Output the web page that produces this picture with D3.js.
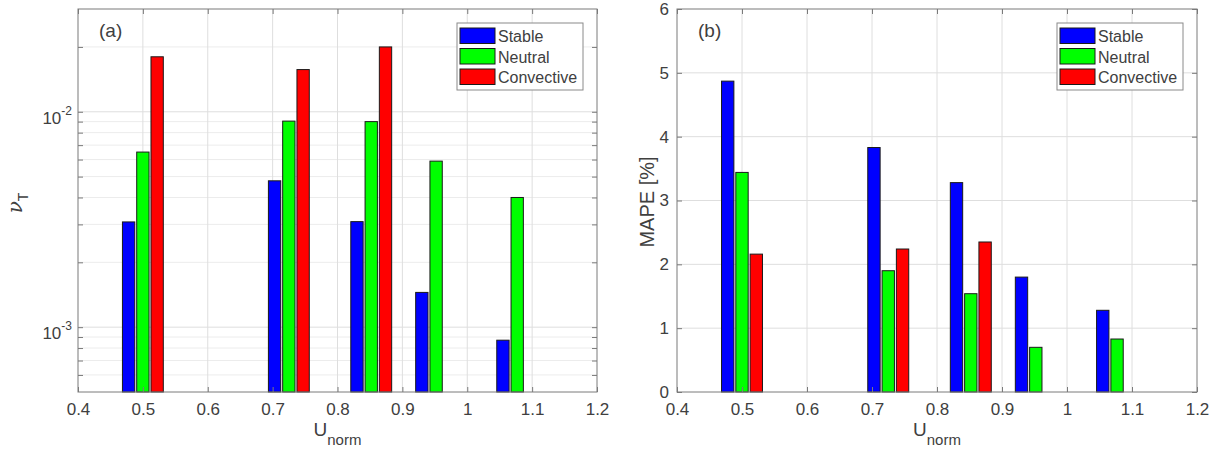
<!DOCTYPE html>
<html>
<head>
<meta charset="utf-8">
<script src="https://cdn.jsdelivr.net/npm/d3@7"></script>
<style>
body { margin: 0; background: #fff; }
svg text { font-family: "Liberation Sans", Arial, Helvetica, sans-serif; fill: #404040; }
</style>
</head>
<body>
<div id="my_dataviz"></div>
<script>
// data
var uNorm = [0.5, 0.725, 0.852, 0.952, 1.077];
var seriesNames = ["Stable", "Neutral", "Convective"];
var seriesColors = ["#0000ff", "#00ff00", "#ff0000"];

var nuStable = [3.08e-3, 4.78e-3, 3.09e-3, 1.45e-3, 8.7e-4];
var nuNeutral = [6.5e-3, 9.05e-3, 9.0e-3, 5.9e-3, 4.0e-3];
var nuConvective = [1.8e-2, 1.57e-2, 2.0e-2, null, null];

var mapeStable = [4.87, 3.83, 3.28, 1.80, 1.28];
var mapeNeutral = [3.44, 1.90, 1.54, 0.70, 0.83];
var mapeConvective = [2.16, 2.24, 2.35, null, null];

var xTicks = [0.4, 0.5, 0.6, 0.7, 0.8, 0.9, 1.0, 1.1, 1.2];
var xTickLabels = ["0.4", "0.5", "0.6", "0.7", "0.8", "0.9", "1", "1.1", "1.2"];
var nuTicks = [1e-3, 1e-2];
var nuTickExp = ["-3", "-2"];
var mapeTicks = [0, 1, 2, 3, 4, 5, 6];

var svg = d3.select("#my_dataviz")
    .append("svg")
        .attr("width", 1220)
        .attr("height", 460);

function drawPanel(prop, series, mode, tag) {
    var width = prop.width, height = prop.height;
    var g = svg.append("g")
        .attr("transform", "translate(" + prop.left + "," + prop.top + ")");

    var x = d3.scaleLinear().domain([0.4, 1.2]).range([0, width]);
    var y;
    var gridMajor, gridMinor = [];
    if (mode == "log") {
        y = d3.scaleLog().domain([5e-4, 3e-2]).range([height, 0]);
        gridMajor = nuTicks;
        [1e-4, 1e-3, 1e-2].forEach(function(p) {
            for (var k = 2; k <= 9; k++) {
                var v = k * p;
                if (v > 5e-4 && v < 3e-2) gridMinor.push(v);
            }
        });
    } else {
        y = d3.scaleLinear().domain([0, 6]).range([height, 0]);
        gridMajor = mapeTicks.slice(1, -1);
    }

    // grid
    g.append("g").selectAll("line.minor")
        .data(gridMinor).enter().append("line")
            .attr("x1", 0).attr("x2", width)
            .attr("y1", function(d) { return y(d); })
            .attr("y2", function(d) { return y(d); })
            .attr("stroke", "#ececec").attr("stroke-width", 1);
    g.append("g").selectAll("line.hgrid")
        .data(gridMajor).enter().append("line")
            .attr("x1", 0).attr("x2", width)
            .attr("y1", function(d) { return y(d); })
            .attr("y2", function(d) { return y(d); })
            .attr("stroke", "#dedede").attr("stroke-width", 1);
    g.append("g").selectAll("line.vgrid")
        .data(xTicks.slice(1, -1)).enter().append("line")
            .attr("y1", 0).attr("y2", height)
            .attr("x1", function(d) { return x(d); })
            .attr("x2", function(d) { return x(d); })
            .attr("stroke", "#dedede").attr("stroke-width", 1);

    // bars
    var offsets = [-0.022, 0, 0.022], barW = 0.019;
    var bw = x(0.4 + barW) - x(0.4);
    series.forEach(function(vals, i) {
        var rows = [];
        vals.forEach(function(v, j) { if (v != null) rows.push({u: uNorm[j] + offsets[i], v: v}); });
        g.append("g").selectAll("rect")
            .data(rows).enter().append("rect")
                .attr("x", function(d) { return x(d.u) - bw / 2; })
                .attr("width", bw)
                .attr("y", function(d) { return y(d.v); })
                .attr("height", function(d) { return height - y(d.v); })
                .attr("fill", seriesColors[i])
                .attr("stroke", "#1a1a1a").attr("stroke-width", 1);
    });

    // axes, ticks pointing inward on all four sides
    var yTickVals = gridMajor.concat(gridMinor);
    if (mode != "log") yTickVals = mapeTicks;
    g.append("g").attr("transform", "translate(0," + height + ")").attr("color", "#7a7a7a")
        .call(d3.axisBottom(x).tickValues(xTicks).tickFormat(function(d, i) { return xTickLabels[i]; })
            .tickSize(-5).tickSizeOuter(0).tickPadding(11))
        .call(function(a) { a.select(".domain").remove(); a.selectAll("text").attr("font-size", 17).attr("fill", "#404040"); });
    g.append("g").attr("color", "#7a7a7a")
        .call(d3.axisTop(x).tickValues(xTicks).tickFormat("").tickSize(-5).tickSizeOuter(0))
        .call(function(a) { a.select(".domain").remove(); });
    g.append("g").attr("color", "#7a7a7a")
        .call(d3.axisLeft(y).tickValues(yTickVals).tickSize(-5).tickSizeOuter(0).tickPadding(8)
            .tickFormat(mode == "log" ? "" : d3.format("d")))
        .call(function(a) { a.select(".domain").remove(); a.selectAll("text").attr("font-size", 17).attr("fill", "#404040"); });
    g.append("g").attr("transform", "translate(" + width + ",0)").attr("color", "#7a7a7a")
        .call(d3.axisRight(y).tickValues(yTickVals).tickFormat("").tickSize(-5).tickSizeOuter(0))
        .call(function(a) { a.select(".domain").remove(); });

    if (mode == "log") {
        var lab = g.append("g").selectAll("text.exp")
            .data(nuTicks).enter().append("text")
                .attr("x", -6)
                .attr("y", function(d) { return y(d) + 12; })
                .attr("text-anchor", "end")
                .attr("font-size", 17);
        lab.append("tspan").text("10");
        lab.append("tspan").attr("dy", -9).attr("font-size", 12)
            .text(function(d, i) { return nuTickExp[i]; });
    }

    g.append("rect")
        .attr("width", width).attr("height", height)
        .attr("fill", "none").attr("stroke", "#7a7a7a").attr("stroke-width", 1);

    // panel tag
    g.append("text").attr("x", 21).attr("y", 28).attr("font-size", 19).text(tag);

    // legend
    var lg = g.append("g").attr("transform", "translate(" + (width - 140) + ",14)");
    lg.append("rect").attr("width", 126).attr("height", 67)
        .attr("fill", "#fff").attr("stroke", "#8a8a8a");
    seriesNames.forEach(function(name, i) {
        lg.append("rect")
            .attr("x", 3).attr("y", 5 + i * 20.5)
            .attr("width", 35).attr("height", 15.5)
            .attr("fill", seriesColors[i]).attr("stroke", "#1a1a1a");
        lg.append("text")
            .attr("x", 41).attr("y", 19 + i * 20.5)
            .attr("font-size", 16).text(name);
    });

    // x label
    var xl = g.append("text")
        .attr("x", width / 2).attr("y", height + 44)
        .attr("text-anchor", "middle").attr("font-size", 19);
    xl.append("tspan").text("U");
    xl.append("tspan").attr("dy", 9).attr("font-size", 15).text("norm");

    return {g: g, x: x, y: y};
}

var pa = drawPanel({left: 78, top: 9, width: 519, height: 383},
    [nuStable, nuNeutral, nuConvective], "log", "(a)");
var pb = drawPanel({left: 677, top: 9, width: 520, height: 383},
    [mapeStable, mapeNeutral, mapeConvective], "lin", "(b)");

// y labels
var yl = pa.g.append("text")
    .attr("transform", "translate(-56," + 194 + ") rotate(-90)")
    .attr("text-anchor", "middle").attr("font-size", 20);
yl.append("tspan").attr("font-style", "italic").attr("font-family", "DejaVu Serif, serif").text("\u03bd");
yl.append("tspan").attr("dy", 6).attr("font-size", 14).text("T");

pb.g.append("text")
    .attr("transform", "translate(-23," + 193 + ") rotate(-90)")
    .attr("text-anchor", "middle").attr("font-size", 20)
    .text("MAPE [%]");
</script>
</body>
</html>
